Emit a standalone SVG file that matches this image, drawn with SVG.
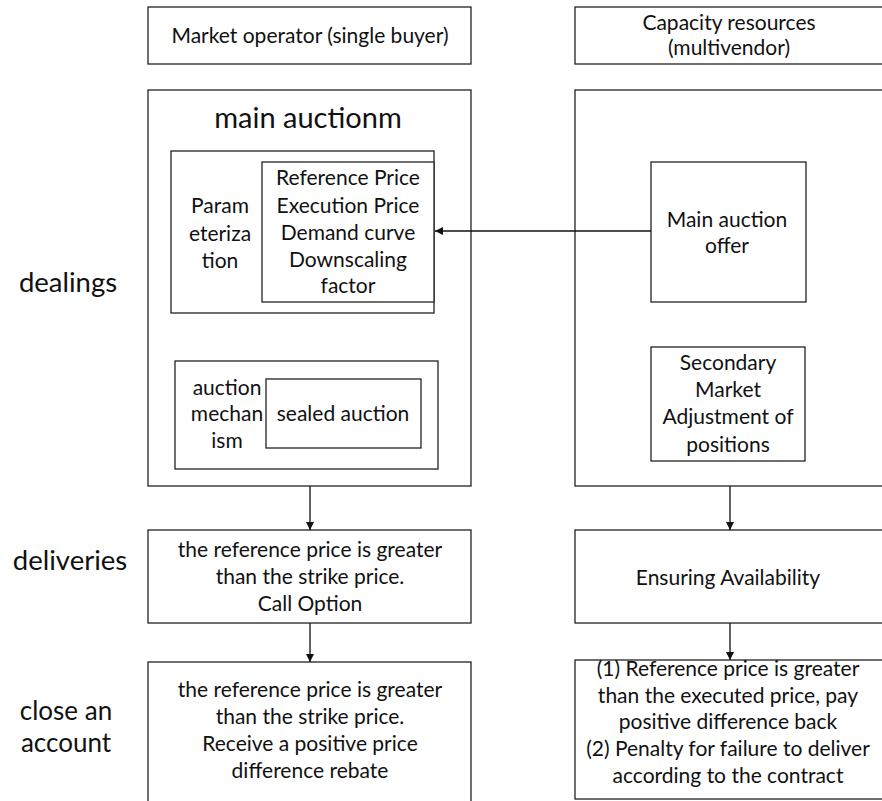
<svg xmlns="http://www.w3.org/2000/svg" width="882" height="801" viewBox="0 0 882 801">
<defs>
<style>
.b{fill:#fff;stroke:#222;stroke-width:1.3}
.t{font-family:Lato,"Liberation Sans",sans-serif;font-size:21px;fill:#111;text-anchor:middle}
.L{font-size:27.5px}
.c{stroke:#111;stroke-width:1.3;fill:none}
</style>
<marker id="ah" viewBox="0 0 10 10" refX="10" refY="5" markerWidth="8" markerHeight="8" markerUnits="userSpaceOnUse" orient="auto">
<path d="M0,0L10,5L0,10z" fill="#111"/>
</marker>
</defs>
<rect width="882" height="801" fill="#fff"/>
<g id="labels">
<text class="t L" x="68" y="292">dealings</text>
<text class="t L" x="70" y="570">deliveries</text>
<text class="t" x="66" y="720" style="font-size:26px">close an</text>
<text class="t" x="66" y="752" style="font-size:26px">account</text>
</g>
<g id="market-operator">
<rect class="b" x="148" y="7" width="323" height="57"/>
<text class="t" x="310" y="43">Market operator (single buyer)</text>
</g>
<g id="capacity-resources">
<rect class="b" x="575" y="7" width="320" height="57"/>
<text class="t" x="729" y="30">Capacity resources</text>
<text class="t" x="729" y="55">(multivendor)</text>
</g>
<g id="main-auction">
<rect class="b" x="148" y="90" width="323" height="396"/>
<text class="t" x="308" y="128" style="font-size:29px">main auctionm</text>
</g>
<g id="parameterization">
<rect class="b" x="171" y="151" width="263" height="162"/>
<text class="t" x="220" y="213">Param</text>
<text class="t" x="220" y="241">eteriza</text>
<text class="t" x="220" y="268">tion</text>
</g>
<g id="parameters">
<rect class="b" x="262" y="162" width="172" height="140"/>
<text class="t" x="348" y="185">Reference Price</text>
<text class="t" x="348" y="213">Execution Price</text>
<text class="t" x="348" y="240">Demand curve</text>
<text class="t" x="348" y="267">Downscaling</text>
<text class="t" x="348" y="293">factor</text>
</g>
<g id="auction-mechanism">
<rect class="b" x="175" y="361" width="263" height="108"/>
<text class="t" x="227" y="395">auction</text>
<text class="t" x="227" y="421">mechan</text>
<text class="t" x="227" y="448">ism</text>
</g>
<g id="sealed-auction">
<rect class="b" x="266" y="379" width="155" height="69"/>
<text class="t" x="343" y="421">sealed auction</text>
</g>
<g id="capacity-main">
<rect class="b" x="575" y="90" width="320" height="396"/>
</g>
<g id="main-auction-offer">
<rect class="b" x="651" y="162" width="155" height="140"/>
<text class="t" x="727" y="227">Main auction</text>
<text class="t" x="727" y="253">offer</text>
</g>
<g id="secondary-market">
<rect class="b" x="651" y="347" width="154" height="114"/>
<text class="t" x="728" y="370">Secondary</text>
<text class="t" x="728" y="397">Market</text>
<text class="t" x="728" y="424">Adjustment of</text>
<text class="t" x="728" y="452">positions</text>
</g>
<g id="deliveries-left">
<rect class="b" x="148" y="530" width="323" height="93"/>
<text class="t" x="310" y="557">the reference price is greater</text>
<text class="t" x="310" y="584">than the strike price.</text>
<text class="t" x="310" y="611">Call Option</text>
</g>
<g id="deliveries-right">
<rect class="b" x="575" y="530" width="320" height="93"/>
<text class="t" x="728" y="585">Ensuring Availability</text>
</g>
<g id="close-left">
<rect class="b" x="148" y="662" width="323" height="160"/>
<text class="t" x="310" y="697">the reference price is greater</text>
<text class="t" x="310" y="724">than the strike price.</text>
<text class="t" x="310" y="751">Receive a positive price</text>
<text class="t" x="310" y="778">difference rebate</text>
</g>
<g id="close-right">
<rect class="b" x="575" y="660" width="320" height="139"/>
<text class="t" x="728" y="676">(1) Reference price is greater</text>
<text class="t" x="728" y="703">than the executed price, pay</text>
<text class="t" x="728" y="729">positive difference back</text>
<text class="t" x="728" y="756">(2) Penalty for failure to deliver</text>
<text class="t" x="728" y="783">according to the contract</text>
</g>
<g id="connectors">
<line class="c" x1="651" y1="231" x2="435" y2="231" marker-end="url(#ah)"/>
<line class="c" x1="310" y1="486" x2="310" y2="530" marker-end="url(#ah)"/>
<line class="c" x1="730" y1="486" x2="730" y2="530" marker-end="url(#ah)"/>
<line class="c" x1="310" y1="623" x2="310" y2="662" marker-end="url(#ah)"/>
<line class="c" x1="730" y1="623" x2="730" y2="660" marker-end="url(#ah)"/>
</g>
</svg>
